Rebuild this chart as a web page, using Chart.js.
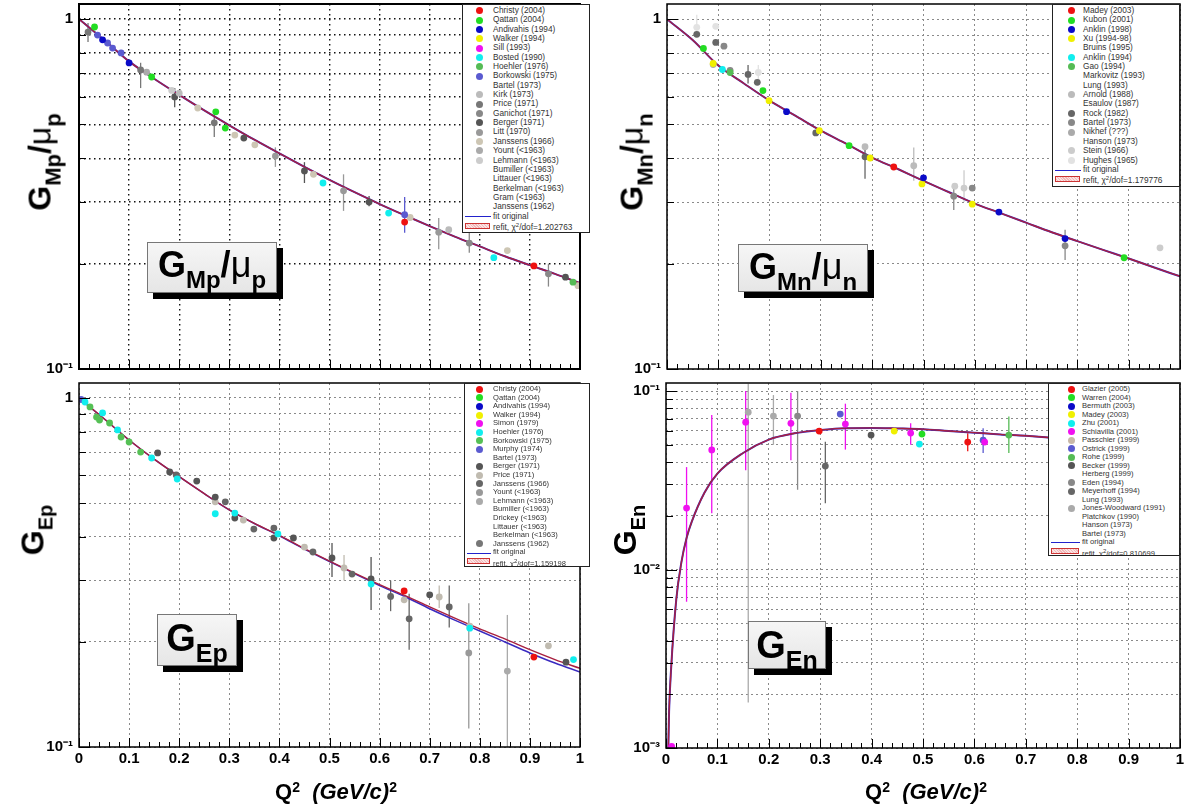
<!DOCTYPE html>
<html>
<head>
<meta charset="utf-8">
<script src="https://cdn.jsdelivr.net/npm/chart.js@4.4.1/dist/chart.umd.min.js"></script>
<style>
body{margin:0;width:1187px;height:810px;position:relative;overflow:hidden;background:#fff;font-family:"Liberation Sans",Arial,sans-serif}
canvas{position:absolute}
.legend{position:absolute;background:#fff;border:1px solid #222;box-sizing:border-box;color:#333;overflow:hidden}
.legend div{position:relative;white-space:nowrap}
.legend i{position:absolute;width:7px;height:7px;border-radius:50%;top:50%;margin-top:-3.5px}
.legend .ln{position:absolute;height:0;border-top:1.5px solid #2222cc;top:50%}
.legend .bx{position:absolute;height:6px;top:50%;margin-top:-3px;border:1px solid #c33;box-sizing:border-box;
  background:repeating-linear-gradient(45deg,#fbe3e3 0 1px,#f1b8b8 1px 2px)}
.tag{position:absolute;box-sizing:border-box;background:linear-gradient(#f6f6f6,#e6e6e6);border:1px solid #777;
  box-shadow:6px 6px 0 #000;font-weight:bold;color:#000;white-space:nowrap;line-height:1;text-align:center}
.tag span.t{display:inline-block;margin-top:4px}
.ytitle{position:absolute;transform:translate(-50%,-50%) rotate(-90deg);font-weight:bold;white-space:nowrap;line-height:1;color:#000}
.mu{font-weight:normal}
sub{vertical-align:-0.45em;line-height:1}
.xtitle{position:absolute;transform:translate(-50%,-50%);font-weight:bold;font-size:22px;white-space:nowrap;color:#000}
.xtitle sup{font-size:14px;vertical-align:0.55em}
</style>
</head>
<body>
<canvas id="cMp" width="590" height="411"></canvas>
<canvas id="cMn" width="590" height="411"></canvas>
<canvas id="cEp" width="590" height="447"></canvas>
<canvas id="cEn" width="590" height="447"></canvas>

<div class="ytitle" style="left:44px;top:162px;font-size:32px">G<sub style="font-size:22px">Mp</sub>/<span class="mu">&mu;</span><sub style="font-size:22px">p</sub></div>
<div class="ytitle" style="left:636px;top:162px;font-size:32px">G<sub style="font-size:22px">Mn</sub>/<span class="mu">&mu;</span><sub style="font-size:22px">n</sub></div>
<div class="ytitle" style="left:36px;top:530px;font-size:32px">G<sub style="font-size:20px">Ep</sub></div>
<div class="ytitle" style="left:628px;top:530px;font-size:32px">G<sub style="font-size:20px">En</sub></div>

<div class="tag" style="left:147px;top:242px;width:130px;height:51px;font-size:36px"><span class="t">G<sub style="font-size:24px">Mp</sub>/<span class="mu">&mu;</span><sub style="font-size:24px">p</sub></span></div>
<div class="tag" style="left:738px;top:244px;width:130px;height:48px;font-size:36px"><span class="t">G<sub style="font-size:24px">Mn</sub>/<span class="mu">&mu;</span><sub style="font-size:24px">n</sub></span></div>
<div class="tag" style="left:157px;top:614px;width:80px;height:52px;font-size:38px"><span class="t">G<sub style="font-size:25px">Ep</sub></span></div>
<div class="tag" style="left:748px;top:621px;width:78px;height:48px;font-size:38px"><span class="t">G<sub style="font-size:25px">En</sub></span></div>

<div class="xtitle" style="left:336px;top:792px">Q<sup>2</sup>&nbsp;&nbsp;<i>(GeV/c)</i><sup>2</sup></div>
<div class="xtitle" style="left:926px;top:792px">Q<sup>2</sup>&nbsp;&nbsp;<i>(GeV/c)</i><sup>2</sup></div>

<div id="lMp" class="legend"></div>
<div id="lMn" class="legend"></div>
<div id="lEp" class="legend"></div>
<div id="lEn" class="legend"></div>

<script>
// values: [Q2, value, errLow, errHigh]
const logTicks = [0.1,0.2,0.3,0.4,0.5,0.6,0.7,0.8,0.9,1];
const logTicksEn = [0.001,0.002,0.003,0.004,0.005,0.006,0.007,0.008,0.009,
  0.01,0.02,0.03,0.04,0.05,0.06,0.07,0.08,0.09,0.1];

// G_Mp / mu_p
const mpChristy = [[0.65,0.263],[0.908,0.197]];
const mpQattan = [[0.031,0.949],[0.145,0.683],[0.273,0.543],[0.292,0.488]];
const mpAndivahis = [[0.047,0.872],[0.1,0.749]];
const mpBosted = [[0.487,0.34],[0.618,0.279],[0.828,0.208]];
const mpHoehler = [[0.986,0.177]];
const mpBorkowski = [[0.037,0.9],[0.057,0.854],[0.067,0.826],[0.084,0.8],[0.65,0.276,0.245,0.31]];
const mpKirk = [[0.2,0.614],[0.738,0.25]];
const mpPrice = [[0.018,0.918,0.86,0.974],[0.123,0.715,0.635,0.75],[0.27,0.505,0.46,0.55]];
const mpGanichot = [[0.779,0.229,0.215,0.246],[0.937,0.187,0.172,0.2]];
const mpBerger = [[0.191,0.599,0.56,0.635],[0.329,0.457],[0.45,0.368,0.34,0.39],[0.579,0.3,0.292,0.312],[0.971,0.183]];
const mpLitt = [[0.392,0.406,0.378,0.43],[0.528,0.323,0.283,0.36],[0.718,0.246,0.22,0.27]];
const mpJanssens66 = [[0.237,0.557],[0.311,0.466],[0.351,0.437],[0.468,0.36],[0.661,0.271],[0.855,0.218],[0.996,0.173]];
const mpYount = [[0.135,0.705]];
const mpLehmann = [[0.185,0.625]];
const mpFit = [[0,1],[0.05,0.872],[0.1,0.757],[0.15,0.675],[0.2,0.607],[0.25,0.548],[0.3,0.497],[0.35,0.452],
  [0.4,0.413],[0.45,0.378],[0.5,0.347],[0.55,0.32],[0.6,0.296],[0.65,0.275],[0.7,0.256],[0.75,0.239],
  [0.8,0.224],[0.85,0.21],[0.9,0.198],[0.95,0.187],[1,0.176]];

// G_Mn / mu_n
const mnMadey = [[0.442,0.378]];
const mnKubon = [[0.071,0.825],[0.187,0.625],[0.355,0.435],[0.891,0.208]];
const mnAnklin98 = [[0.233,0.544],[0.5,0.352],[0.647,0.281],[0.776,0.236]];
const mnXu = [[0.09,0.747],[0.199,0.585],[0.297,0.48],[0.396,0.401],[0.497,0.338],[0.595,0.296]];
const mnAnklin94 = [[0.108,0.718]];
const mnGao = [[0.123,0.704]];
const mnArnold = [[0.386,0.432],[0.481,0.381,0.345,0.43]];
const mnRock = [[0.058,0.905],[0.095,0.858],[0.158,0.695,0.655,0.74],[0.176,0.66],[0.29,0.473],[0.386,0.404,0.35,0.44]];
const mnBartel = [[0.111,0.837],[0.123,0.714],[0.559,0.312,0.285,0.335],[0.595,0.329],[0.776,0.225,0.205,0.25]];
const mnNikhef = [[0.09,0.742]];
const mnStein = [[0.561,0.333],[0.579,0.329,0.3,0.37],[0.961,0.222]];
const mnHughes = [[0.058,0.948,0.9,1.03],[0.095,0.954],[0.178,0.704,0.66,0.74]];
const mnFit = [[0,1],[0.05,0.872],[0.1,0.737],[0.15,0.655],[0.2,0.585],[0.25,0.53],[0.3,0.48],[0.35,0.44],
  [0.4,0.402],[0.45,0.373],[0.5,0.345],[0.55,0.32],[0.6,0.297],[0.65,0.279],[0.7,0.262],[0.75,0.246],
  [0.8,0.232],[0.85,0.219],[0.9,0.207],[0.95,0.195],[1,0.184]];

// G_Ep
const epChristy = [[0.649,0.28],[0.908,0.181]];
const epHoehler = [[0.012,0.974],[0.047,0.906],[0.077,0.81],[0.145,0.673],[0.196,0.586],[0.272,0.466],
  [0.311,0.468],[0.397,0.408],[0.583,0.293],[0.78,0.219],[0.987,0.178]];
const epBorkowski = [[0.022,0.943],[0.035,0.882],[0.041,0.865],[0.061,0.848],[0.084,0.773],[0.1,0.748],[0.123,0.7]];
const epMurphy = [[0.004,0.99]];
const epBerger = [[0.157,0.696],[0.181,0.614],[0.235,0.578],[0.272,0.52],[0.311,0.453],[0.389,0.397],[0.428,0.397],
  [0.505,0.348,0.307,0.384],[0.583,0.303,0.247,0.35],[0.7,0.273],[0.972,0.175]];
const epPrice = [[0.272,0.504],[0.328,0.447],[0.45,0.374],[0.529,0.326,0.3,0.355],[0.649,0.264],[0.719,0.269,0.25,0.29],
  [0.78,0.222],[0.937,0.195]];
const epJanssens66 = [[0.194,0.602],[0.292,0.504],[0.349,0.421],[0.389,0.424],[0.467,0.362],[0.545,0.313],
  [0.622,0.27,0.245,0.3],[0.659,0.233,0.19,0.275],[0.739,0.252,0.22,0.29]];
const epYount = [[0.778,0.186,0.113,0.258]];
const epLehmann = [[0.855,0.165,0.1,0.239]];
const epFit = [[0,1],[0.05,0.872],[0.1,0.758],[0.15,0.668],[0.2,0.595],[0.25,0.532],[0.3,0.478],[0.35,0.437],
  [0.4,0.404],[0.45,0.37],[0.5,0.341],[0.55,0.315],[0.6,0.292],[0.65,0.272],[0.7,0.252],[0.75,0.234],
  [0.8,0.218],[0.85,0.204],[0.9,0.19],[0.95,0.178],[1,0.168]];
const epFitOrig = [[0,1],[0.05,0.872],[0.1,0.758],[0.15,0.668],[0.2,0.595],[0.25,0.532],[0.3,0.478],[0.35,0.437],
  [0.4,0.403],[0.45,0.369],[0.5,0.34],[0.55,0.314],[0.6,0.29],[0.65,0.27],[0.7,0.249],[0.75,0.231],
  [0.8,0.215],[0.85,0.2],[0.9,0.186],[0.95,0.174],[1,0.164]];

// G_En
const enGlazier = [[0.298,0.0597],[0.587,0.0518,0.046,0.058]];
const enWarren = [[0.498,0.0574]];
const enMadey = [[0.444,0.0597]];
const enZhu = [[0.493,0.0505]];
const enSchiavilla = [[0.011,0.00102],[0.04,0.0221,0.0066,0.0375],[0.089,0.0468,0.0207,0.0734],[0.155,0.067,0.036,0.1],
  [0.243,0.066,0.041,0.098],[0.349,0.0653,0.047,0.085],[0.476,0.0582,0.05,0.066],[0.62,0.0518]];
const enOstrick = [[0.339,0.0743],[0.617,0.0531,0.045,0.062]];
const enRohe = [[0.667,0.0567,0.045,0.072]];
const enBecker = [[0.399,0.0567]];
const enEden = [[0.256,0.0724,0.028,0.1]];
const enMeyerhoff = [[0.31,0.038,0.0235,0.052]];
const enJonesWoodward = [[0.16,0.0762,0.0018,0.11],[0.209,0.0724,0.05,0.095]];
const enFit = [[0.0045,0.001],[0.006,0.0016],[0.01,0.0028],[0.02,0.0068],[0.03,0.011],[0.04,0.015],[0.05,0.0185],
  [0.075,0.027],[0.1,0.0345],[0.15,0.045],[0.2,0.0535],[0.25,0.058],[0.3,0.0605],[0.35,0.062],[0.4,0.0622],
  [0.45,0.0618],[0.5,0.0612],[0.55,0.0598],[0.6,0.0585],[0.65,0.0572],[0.7,0.0562],[0.75,0.0548],
  [0.8,0.053],[0.85,0.0515],[0.9,0.0498],[0.95,0.0482],[1,0.0467]];

// legend entries (name, marker colour; '' = no marker)
const mpNames = ['Christy (2004)','Qattan (2004)','Andivahis (1994)','Walker (1994)','Sill (1993)','Bosted (1990)',
  'Hoehler (1976)','Borkowski (1975)','Bartel (1973)','Kirk (1973)','Price (1971)','Ganichot (1971)','Berger (1971)',
  'Litt (1970)','Janssens (1966)','Yount (<1963)','Lehmann (<1963)','Bumiller (<1963)','Littauer (<1963)',
  'Berkelman (<1963)','Gram (<1963)','Janssens (1962)'];
const mpDots = ['#ee1111','#22dd22','#0a0ac8','#f0f000','#f010f0','#10eeee','#55bb55','#5a5ad0','',
  '#bbbbbb','#777777','#888888','#555555','#999999','#cdc6b4','#aaaaaa','#cccccc','','','','',''];
const mnNames = ['Madey (2003)','Kubon (2001)','Anklin (1998)','Xu (1994-98)','Bruins (1995)','Anklin (1994)',
  'Gao (1994)','Markovitz (1993)','Lung (1993)','Arnold (1988)','Esaulov (1987)','Rock (1982)','Bartel (1973)',
  'Nikhef (???)','Hanson (1973)','Stein (1966)','Hughes (1965)'];
const mnDots = ['#ee1111','#22dd22','#0a0ac8','#f0f000','','#10eeee','#55bb55','','','#bbbbbb','',
  '#666666','#888888','#aaaaaa','','#cccccc','#e2e2e2'];
const epNames = ['Christy (2004)','Qattan (2004)','Andivahis (1994)','Walker (1994)','Simon (1979)','Hoehler (1976)',
  'Borkowski (1975)','Murphy (1974)','Bartel (1973)','Berger (1971)','Price (1971)','Janssens (1966)','Yount (<1963)',
  'Lehmann (<1963)','Bumiller (<1963)','Drickey (<1963)','Littauer (<1963)','Berkelman (<1963)','Janssens (1962)'];
const epDots = ['#ee1111','#22dd22','#0a0ac8','#f0f000','#f010f0','#10eeee','#55c055','#5a5ad0','',
  '#555555','#c0bbb0','#666666','#999999','#aaaaaa','','','','','#777777'];
const enNames = ['Glazier (2005)','Warren (2004)','Bermuth (2003)','Madey (2003)','Zhu (2001)','Schiavilla (2001)',
  'Passchier (1999)','Ostrick (1999)','Rohe (1999)','Becker (1999)','Herberg (1999)','Eden (1994)','Meyerhoff (1994)',
  'Lung (1993)','Jones-Woodward (1991)','Platchkov (1990)','Hanson (1973)','Bartel (1973)'];
const enDots = ['#ee1111','#22dd22','#0a0ac8','#f0f000','#10eeee','#f010f0','#c8b8a8','#5a5ad0','#55bb55',
  '#555555','','#888888','#666666','','#aaaaaa','','',''];

const mpChi = '1.202763', mnChi = '1.179776', epChi = '1.159198', enChi = '0.810699';

function pts(a) { return a.map(d => ({x: d[0], y: d[1], lo: d[2], hi: d[3]})); }

function dots(arr, names, colors, name) {
  const c = colors[names.indexOf(name)];
  return {type: 'scatter', label: name, data: pts(arr), backgroundColor: c, borderColor: c,
    pointRadius: 3.4, pointHoverRadius: 3.4, pointBorderWidth: 0, order: 1};
}
// refit is listed first so that it lands on top of the original fit
function curve(arr, color, w) {
  return {type: 'scatter', showLine: true, data: pts(arr), borderColor: color, backgroundColor: color,
    borderWidth: w, pointRadius: 0, cubicInterpolationMode: 'monotone', order: 5};
}

const sup = {'-1': '\u207B\u00B9', '-2': '\u207B\u00B2', '-3': '\u207B\u00B3'};
function decade(v) {
  const l = Math.log10(v), e = Math.round(l);
  if (Math.abs(l - e) > 1e-6) return '';
  return e === 0 ? '1' : '10' + sup[e];
}

// frame, inward tick marks and error bars
const rootLook = {
  id: 'rootLook',
  beforeDatasetsDraw(chart) {
    const {ctx, chartArea: a, scales: {x, y}} = chart;
    ctx.save();
    ctx.beginPath(); ctx.rect(a.left, a.top, a.right - a.left, a.bottom - a.top); ctx.clip();
    chart.data.datasets.forEach(ds => {
      ctx.strokeStyle = ds.borderColor; ctx.lineWidth = 1.3;
      ds.data.forEach(p => {
        if (p.lo == null) return;
        const px = x.getPixelForValue(p.x);
        ctx.beginPath();
        ctx.moveTo(px, y.getPixelForValue(p.lo));
        ctx.lineTo(px, y.getPixelForValue(p.hi));
        ctx.stroke();
      });
    });
    ctx.restore();
  },
  afterDraw(chart) {
    const {ctx, chartArea: a, scales: {x, y}} = chart;
    ctx.save();
    ctx.strokeStyle = '#000'; ctx.lineWidth = 1;
    for (let i = 0; i <= 50; i++) {
      const px = Math.round(x.getPixelForValue(i / 50)) + 0.5;
      ctx.beginPath(); ctx.moveTo(px, a.bottom); ctx.lineTo(px, a.bottom - (i % 5 ? 5 : 9)); ctx.stroke();
    }
    y.ticks.forEach(t => {
      const py = Math.round(y.getPixelForValue(t.value)) + 0.5;
      ctx.beginPath(); ctx.moveTo(a.left, py); ctx.lineTo(a.left + (decade(t.value) ? 11 : 7), py); ctx.stroke();
    });
    ctx.lineWidth = chart.options.frameWidth;
    ctx.strokeRect(a.left, a.top, a.right - a.left, a.bottom - a.top);
    ctx.restore();
  }
};

function panel(id, left, top, g, datasets) {
  const cv = document.getElementById(id);
  cv.style.left = left + 'px'; cv.style.top = top + 'px';
  const tickFont = {family: 'Liberation Sans', size: 15, weight: 'bold'};
  new Chart(cv, {
    type: 'scatter',
    data: {datasets: datasets},
    plugins: [rootLook],
    options: {
      animation: false, responsive: false, devicePixelRatio: 1,
      frameWidth: g.frame,
      layout: {padding: {top: 20, right: 10, left: 0, bottom: 0}},
      plugins: {legend: {display: false}, tooltip: {enabled: false}},
      scales: {
        x: {type: 'linear', min: 0, max: 1,
          ticks: {display: g.xLabels, stepSize: 0.1, padding: 3, color: '#000', font: tickFont,
            callback: v => String(Math.round(v * 10) / 10)},
          grid: {color: g.grid, lineWidth: g.gw, drawTicks: false},
          border: {display: false, dash: g.dash},
          afterFit(s) { s.height = g.xh; }},
        y: {type: 'logarithmic', min: g.ymin, max: g.ymax,
          afterBuildTicks(s) { s.ticks = g.ticks.map(v => ({value: v})); },
          ticks: {autoSkip: false, padding: 6, color: '#000', font: tickFont, callback: v => decade(v)},
          grid: {color: g.grid, lineWidth: g.gw, drawTicks: false},
          border: {display: false, dash: g.dash},
          afterFit(s) { s.width = g.yw; }}
      }
    }
  });
}

function legend(id, box, names, colors, chi) {
  const el = document.getElementById(id);
  Object.assign(el.style, {left: box.l + 'px', top: box.t + 'px', width: box.w + 'px', height: box.h + 'px',
    fontSize: box.fs + 'px', paddingTop: box.pt + 'px'});
  const row = (html) => {
    const d = document.createElement('div');
    d.style.height = box.rh + 'px'; d.style.lineHeight = box.rh + 'px'; d.style.paddingLeft = box.tx + 'px';
    d.innerHTML = html; el.appendChild(d); return d;
  };
  names.forEach((n, i) => {
    const d = row(n.replace(/</g, '&lt;'));
    if (colors[i]) {
      const m = document.createElement('i');
      m.style.background = colors[i]; m.style.left = (box.mx - 3.5) + 'px';
      d.appendChild(m);
    }
  });
  const f = row('fit original');
  const ln = document.createElement('span'); ln.className = 'ln';
  ln.style.left = '2px'; ln.style.width = (box.tx - 4) + 'px'; f.appendChild(ln);
  const r = row('refit, &chi;<sup style="font-size:6px;vertical-align:3px">2</sup>/dof=' + chi);
  const bx = document.createElement('span'); bx.className = 'bx';
  bx.style.left = '2px'; bx.style.width = (box.tx - 5) + 'px'; r.appendChild(bx);
}

const fitBlue = '#3a2ac0', fitRed = '#a8203f';

panel('cMp', 0, -16, {frame: 2, xLabels: false, grid: '#111', gw: 1.4, dash: [1.5, 3.5],
  ymin: 0.1, ymax: 1.104, ticks: logTicks, yw: 79, xh: 26}, [
  curve(mpFit, fitRed, 1.4), curve(mpFit, fitBlue, 2),
  dots(mpChristy, mpNames, mpDots, 'Christy (2004)'),
  dots(mpQattan, mpNames, mpDots, 'Qattan (2004)'),
  dots(mpAndivahis, mpNames, mpDots, 'Andivahis (1994)'),
  dots(mpBosted, mpNames, mpDots, 'Bosted (1990)'),
  dots(mpHoehler, mpNames, mpDots, 'Hoehler (1976)'),
  dots(mpBorkowski, mpNames, mpDots, 'Borkowski (1975)'),
  dots(mpKirk, mpNames, mpDots, 'Kirk (1973)'),
  dots(mpPrice, mpNames, mpDots, 'Price (1971)'),
  dots(mpGanichot, mpNames, mpDots, 'Ganichot (1971)'),
  dots(mpBerger, mpNames, mpDots, 'Berger (1971)'),
  dots(mpLitt, mpNames, mpDots, 'Litt (1970)'),
  dots(mpJanssens66, mpNames, mpDots, 'Janssens (1966)'),
  dots(mpYount, mpNames, mpDots, 'Yount (<1963)'),
  dots(mpLehmann, mpNames, mpDots, 'Lehmann (<1963)')
]);

panel('cMn', 600, -16, {frame: 1.5, xLabels: false, grid: '#8a8a8a', gw: 1, dash: [2, 3],
  ymin: 0.1, ymax: 1.105, ticks: logTicks, yw: 67, xh: 26}, [
  curve(mnFit, fitRed, 1.4), curve(mnFit, fitBlue, 2),
  dots(mnMadey, mnNames, mnDots, 'Madey (2003)'),
  dots(mnKubon, mnNames, mnDots, 'Kubon (2001)'),
  dots(mnAnklin98, mnNames, mnDots, 'Anklin (1998)'),
  dots(mnXu, mnNames, mnDots, 'Xu (1994-98)'),
  dots(mnAnklin94, mnNames, mnDots, 'Anklin (1994)'),
  dots(mnGao, mnNames, mnDots, 'Gao (1994)'),
  dots(mnArnold, mnNames, mnDots, 'Arnold (1988)'),
  dots(mnRock, mnNames, mnDots, 'Rock (1982)'),
  dots(mnBartel, mnNames, mnDots, 'Bartel (1973)'),
  dots(mnNikhef, mnNames, mnDots, 'Nikhef (???)'),
  dots(mnStein, mnNames, mnDots, 'Stein (1966)'),
  dots(mnHughes, mnNames, mnDots, 'Hughes (1965)')
]);

panel('cEp', 0, 363, {frame: 1.5, xLabels: true, grid: '#8a8a8a', gw: 1, dash: [2, 3],
  ymin: 0.1, ymax: 1.104, ticks: logTicks, yw: 79, xh: 63}, [
  curve(epFit, fitRed, 1.4), curve(epFitOrig, fitBlue, 1.5),
  dots(epChristy, epNames, epDots, 'Christy (2004)'),
  dots(epHoehler, epNames, epDots, 'Hoehler (1976)'),
  dots(epBorkowski, epNames, epDots, 'Borkowski (1975)'),
  dots(epMurphy, epNames, epDots, 'Murphy (1974)'),
  dots(epBerger, epNames, epDots, 'Berger (1971)'),
  dots(epPrice, epNames, epDots, 'Price (1971)'),
  dots(epJanssens66, epNames, epDots, 'Janssens (1966)'),
  dots(epYount, epNames, epDots, 'Yount (<1963)'),
  dots(epLehmann, epNames, epDots, 'Lehmann (<1963)')
]);

panel('cEn', 600, 363, {frame: 1.5, xLabels: true, grid: '#8a8a8a', gw: 1, dash: [2, 3],
  ymin: 0.001, ymax: 0.111, ticks: logTicksEn, yw: 66, xh: 62}, [
  curve(enFit, fitRed, 1.4), curve(enFit, fitBlue, 2),
  dots(enGlazier, enNames, enDots, 'Glazier (2005)'),
  dots(enWarren, enNames, enDots, 'Warren (2004)'),
  dots(enMadey, enNames, enDots, 'Madey (2003)'),
  dots(enZhu, enNames, enDots, 'Zhu (2001)'),
  dots(enSchiavilla, enNames, enDots, 'Schiavilla (2001)'),
  dots(enOstrick, enNames, enDots, 'Ostrick (1999)'),
  dots(enRohe, enNames, enDots, 'Rohe (1999)'),
  dots(enBecker, enNames, enDots, 'Becker (1999)'),
  dots(enEden, enNames, enDots, 'Eden (1994)'),
  dots(enMeyerhoff, enNames, enDots, 'Meyerhoff (1994)'),
  dots(enJonesWoodward, enNames, enDots, 'Jones-Woodward (1991)')
]);

legend('lMp', {l: 462, t: 4, w: 128, h: 229, fs: 8.3, rh: 9.35, pt: 1, tx: 30, mx: 16}, mpNames, mpDots, mpChi);
legend('lMn', {l: 1052, t: 4, w: 128, h: 183, fs: 8.3, rh: 9.35, pt: 1, tx: 30, mx: 18}, mnNames, mnDots, mnChi);
legend('lEp', {l: 464, t: 383, w: 126, h: 184, fs: 7.6, rh: 8.6, pt: 1, tx: 28, mx: 14}, epNames, epDots, epChi);
legend('lEn', {l: 1048, t: 383, w: 132, h: 173, fs: 7.6, rh: 8.5, pt: 1, tx: 33, mx: 22}, enNames, enDots, enChi);
</script>
</body>
</html>
